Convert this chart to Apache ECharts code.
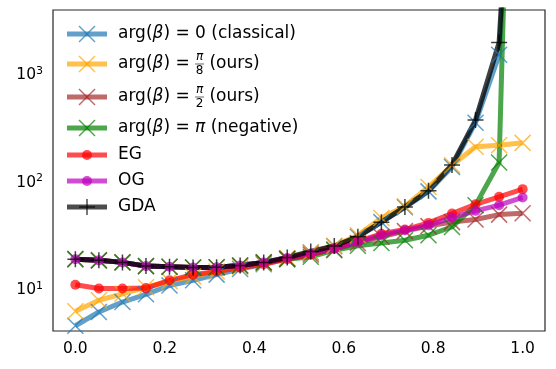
<!DOCTYPE html>
<html>
<head>
<meta charset="utf-8">
<script src="https://cdn.jsdelivr.net/npm/echarts@6/dist/echarts.min.js"></script>
<style>
html, body { margin: 0; padding: 0; background: #fff; }
#main { width: 556px; height: 369px; }
</style>
</head>
<body>
<div id="main"></div>
<script type="text/javascript">
// x positions (20 points from 0 to 1)
var xs = [0, 0.0526, 0.1053, 0.1579, 0.2105, 0.2632, 0.3158, 0.3684, 0.4211, 0.4737,
          0.5263, 0.5789, 0.6316, 0.6842, 0.7368, 0.7895, 0.8421, 0.8947, 0.9474, 1.0];

// series values
var classical = [4.7, 6.3, 7.8, 9.2, 11.1, 12.4, 14, 15.8, 17.5, 19.8,
                 22.5, 25.7, 31.5, 43, 59, 83, 140, 360, 1535, 1e7];
var pi8 = [6.4, 8.1, 9.3, 10.7, 12.2, 13.5, 15, 16.5, 18, 20,
           22.5, 26, 32.5, 47, 60.5, 91, 145, 215, 222, 234];
var pi2 = [19.5, 19, 18.2, 16.8, 16.6, 16.3, 16.4, 17, 18.2, 19.5,
           21.5, 24, 27.5, 31.5, 35.5, 39.5, 43, 45.5, 50.5, 52];
var negative = [19.5, 19, 18.2, 16.8, 16.6, 16.3, 16.4, 17, 18.2, 19.5,
                20.5, 23.6, 26, 27.5, 29.2, 32.5, 38.8, 61.8, 154, 1e10];
var eg = [11.3, 10.4, 10.4, 10.5, 12.4, 14, 15, 16.2, 17.5, 19.5,
          21.5, 24.5, 28.5, 33.5, 36.7, 42.3, 51.6, 63, 73.8, 87];
var og = [19.5, 19, 18.2, 16.8, 16.6, 16.3, 16.4, 17, 18.2, 20,
          22, 24.4, 28.1, 32.5, 36.1, 40.2, 47.4, 54.7, 61.8, 72.8];
var gda = [19.5, 19, 18.2, 16.8, 16.6, 16.3, 16.4, 17, 18.2, 20.2,
           23, 25.8, 31.5, 43, 59.5, 84, 146, 381, 2000, 1e7];

var xTicks = [0, 0.2, 0.4, 0.6, 0.8, 1.0];
var yTicks = [10, 100, 1000];

var FONT = 'DejaVu Sans';
var X_PATH = 'path://M0,0L16,16M16,0L0,16';
var PLUS_PATH = 'path://M8,0L8,16M0,8L16,8';

function pts(arr) {
    return xs.map(function (x, i) { return [x, arr[i]]; });
}

function lineSeries(name, arr, color, marker, alpha) {
    var s = {
        name: name,
        type: 'line',
        data: pts(arr),
        showAllSymbol: true,
        silent: true,
        clip: true,
        animation: false,
        lineStyle: { color: color, width: 5, opacity: alpha },
        emphasis: { disabled: true }
    };
    if (marker == 'x' || marker == '+') {
        s.symbol = marker == 'x' ? X_PATH : PLUS_PATH;
        s.symbolSize = 16;
        s.itemStyle = { color: 'rgba(0,0,0,0)', borderColor: color, borderWidth: 1.5, opacity: alpha };
    } else {
        s.symbol = 'circle';
        s.symbolSize = 10;
        s.itemStyle = { color: color, borderWidth: 0, opacity: alpha };
    }
    return s;
}

var C = {
    blue: '#1f77b4', orange: '#ffa500', brown: '#a52a2a', green: '#008000',
    red: '#ff0000', magenta: '#bf00bf', black: '#000000'
};

// ---- legend built by hand (needs stacked fractions) ----
var measure = document.createElement('canvas').getContext('2d');
function textW(str, italic, size) {
    measure.font = (italic ? 'italic ' : '') + size + 'px "' + FONT + '"';
    return measure.measureText(str).width;
}

var LEG_FS = 17;
var legendRows = [
    { y: 34, color: C.blue, marker: 'x', rhs: '0', tail: ' (classical)' },
    { y: 64, color: C.orange, marker: 'x', frac: '8', tail: ' (ours)' },
    { y: 97, color: C.brown, marker: 'x', frac: '2', tail: ' (ours)' },
    { y: 128, color: C.green, marker: 'x', rhsItalic: 'π', tail: ' (negative)' },
    { y: 155, color: C.red, marker: 'o', plain: 'EG' },
    { y: 181, color: C.magenta, marker: 'o', plain: 'OG' },
    { y: 207, color: C.black, marker: '+', plain: 'GDA' }
];

var graphics = [];
legendRows.forEach(function (r) {
    var a = 0.7;
    graphics.push({ type: 'line', shape: { x1: 67, y1: r.y, x2: 107, y2: r.y },
        style: { stroke: r.color, lineWidth: 5, opacity: a } });
    if (r.marker == 'x') {
        graphics.push({ type: 'line', shape: { x1: 79, y1: r.y - 8, x2: 95, y2: r.y + 8 }, style: { stroke: r.color, lineWidth: 1.5, opacity: a } });
        graphics.push({ type: 'line', shape: { x1: 79, y1: r.y + 8, x2: 95, y2: r.y - 8 }, style: { stroke: r.color, lineWidth: 1.5, opacity: a } });
    } else if (r.marker == '+') {
        graphics.push({ type: 'line', shape: { x1: 79, y1: r.y, x2: 95, y2: r.y }, style: { stroke: r.color, lineWidth: 1.5, opacity: a } });
        graphics.push({ type: 'line', shape: { x1: 87, y1: r.y - 8, x2: 87, y2: r.y + 8 }, style: { stroke: r.color, lineWidth: 1.5, opacity: a } });
    } else {
        graphics.push({ type: 'circle', shape: { cx: 87, cy: r.y, r: 5 }, style: { fill: r.color, opacity: a } });
    }
    var tx = 118;
    var base = { fontFamily: FONT, fontSize: LEG_FS, fill: '#000', verticalAlign: 'middle', align: 'left' };
    if (r.plain) {
        graphics.push({ type: 'text', x: tx, y: r.y, style: Object.assign({ text: r.plain }, base) });
        return;
    }
    var pieces = [['arg(', false], ['β', true], [') = ', false]];
    if (r.rhs) pieces.push([r.rhs + r.tail, false]);
    if (r.rhsItalic) { pieces.push([r.rhsItalic, true]); pieces.push([r.tail, false]); }
    pieces.forEach(function (p) {
        graphics.push({ type: 'text', x: tx, y: r.y,
            style: Object.assign({ text: p[0], fontStyle: p[1] ? 'italic' : 'normal' }, base) });
        tx += textW(p[0], p[1], LEG_FS);
    });
    if (r.frac) {
        var fs = 12, fw = 9;
        var cx = tx + fw / 2;
        graphics.push({ type: 'text', x: cx, y: r.y - 1, style: { text: 'π', fontFamily: FONT, fontSize: fs, fontStyle: 'italic', fill: '#000', align: 'center', verticalAlign: 'bottom' } });
        graphics.push({ type: 'line', shape: { x1: tx, y1: r.y, x2: tx + fw, y2: r.y }, style: { stroke: '#000', lineWidth: 0.6 } });
        graphics.push({ type: 'text', x: cx, y: r.y + 1, style: { text: r.frac, fontFamily: FONT, fontSize: fs, fill: '#000', align: 'center', verticalAlign: 'top' } });
        tx += fw;
        graphics.push({ type: 'text', x: tx, y: r.y, style: Object.assign({ text: r.tail }, base) });
    }
});

var myChart = echarts.init(document.getElementById('main'), null, { renderer: 'canvas' });
var option = {
    animation: false,
    backgroundColor: '#fff',
    grid: {
        left: 53, right: 11, top: 10, bottom: 38,
        show: true, borderColor: '#262626', borderWidth: 1.2,
        outerBoundsMode: 'none'
    },
    xAxis: {
        type: 'value',
        min: -0.05, max: 1.05,
        axisLine: { show: false },
        axisTick: { show: false },
        splitLine: { show: false },
        axisLabel: {
            customValues: xTicks,
            formatter: function (v) { return v.toFixed(1); },
            fontFamily: FONT, fontSize: 15.5, color: '#000', margin: 10
        }
    },
    yAxis: {
        type: 'log',
        logBase: 10,
        min: 4.2, max: 4000,
        axisLine: { show: false },
        axisTick: { show: false },
        splitLine: { show: false },
        minorTick: { show: false },
        axisLabel: {
            customValues: yTicks,
            formatter: function (v) {
                return '{b|10}{s|' + Math.round(Math.log10(v)) + '}';
            },
            margin: 10,
            rich: {
                b: { fontFamily: FONT, fontSize: 15.5, color: '#000' },
                s: { fontFamily: FONT, fontSize: 11, color: '#000', padding: [0, 0, 8, 0] }
            }
        }
    },
    graphic: graphics,
    series: [
        lineSeries('classical', classical, C.blue, 'x', 0.7),
        lineSeries('pi8', pi8, C.orange, 'x', 0.7),
        lineSeries('pi2', pi2, C.brown, 'x', 0.7),
        lineSeries('negative', negative, C.green, 'x', 0.7),
        lineSeries('EG', eg, C.red, 'o', 0.7),
        lineSeries('OG', og, C.magenta, 'o', 0.7),
        lineSeries('GDA', gda, C.black, '+', 0.75)
    ]
};
myChart.setOption(option);
</script>
</body>
</html>
